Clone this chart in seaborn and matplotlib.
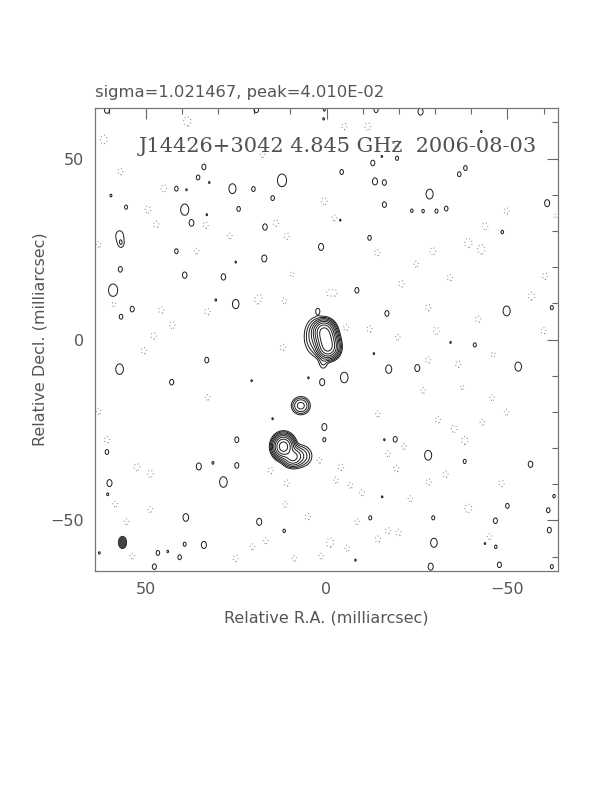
import numpy as np
import matplotlib
matplotlib.use("Agg")
import matplotlib.pyplot as plt
import seaborn as sns
from matplotlib.patches import Ellipse
from matplotlib.ticker import MultipleLocator

sns.set_theme(style="white")
plt.rcParams['font.family'] = ['DejaVu Sans']
plt.rcParams['axes.unicode_minus'] = True

# ---- data (relative RA / Dec in mas, amplitudes in units of lowest contour) ----
# core (chain of sub-components), secondary knot, southern component
comp_ra = [0.7, 0.3, -0.1, -0.4, 3.0, 0.9, 7.1, 11.9, 9.4, 7.2]
comp_dec = [2.4, 0.8, -0.8, -2.4, 0.8, -6.0, -18.3, -29.6, -32.4, -32.2]
comp_amp = [132.0, 132.0, 132.0, 132.0, 7.0, 2.5, 11.0, 200.0, 45.0, 7.0]
comp_sra = [1.25, 1.25, 1.25, 1.25, 1.6, 0.8, 1.2, 1.2, 1.25, 1.6]
comp_sdec = [1.25, 1.25, 1.25, 1.25, 2.6, 1.4, 1.15, 1.35, 1.2, 1.5]

pos_ra = [60.7, 33.9, 35.5, 32.4, 12.3, 41.5, 38.7, 26.0, 20.2, 59.6, 14.9, 55.4, 39.2, 37.3,
          33.1, 24.3, 17.0, 57.2, 56.8, 1.5, 41.5, 25.1, 17.2, 57.0, 39.2, 28.5, 59.0, 53.7,
          56.8, 30.6, 25.1, 2.4, 19.4, 0.6, 0.8, -13.7, -26.0, -12.8, -15.3, -19.5, -4.2,
          -13.4, -16.0, -36.7, -38.4, -28.5, -16.0, -23.6, -26.7, -30.4, -33.1, -61.0, -3.8,
          -11.9, -48.6, -8.4, -16.7, -49.8, -62.3, -42.8, 57.2, 33.1, 42.8, 5.0, 1.2, 14.9,
          24.8, 60.7, 0.6, 0.6, 35.3, 31.4, 24.8, 28.5, 60.0, 60.5, 38.9, 18.6, 11.7, 39.2,
          33.9, 46.6, 43.9, 40.6, 47.6, 62.8, 20.7, -41.0, -34.3, -13.1, -17.2, -25.1, -53.0,
          -4.9, -19.0, -16.0, -28.1, -38.2, -56.4, -15.4, -50.0, -62.9, -61.3, -46.7, -61.6,
          -12.1, -29.5, -29.7, -43.8, -46.8, -8.0, -28.8, -47.8, -62.3]
pos_dec = [63.5, 47.7, 44.8, 43.4, 44.0, 41.7, 41.4, 41.7, 41.6, 39.8, 39.1, 36.6, 35.9, 32.2,
           34.5, 36.1, 31.1, 28.6, 26.5, 25.6, 24.4, 21.4, 22.4, 19.4, 17.8, 17.3, 13.6, 8.4,
           6.3, 10.9, 9.8, 7.9, 63.6, 63.5, 61.0, 63.5, 63.0, 48.8, 50.6, 50.1, 46.3,
           43.7, 43.4, 45.7, 47.4, 40.2, 37.3, 35.6, 35.5, 35.5, 36.2, 37.7, 33.0,
           28.1, 29.7, 13.6, 7.2, 7.9, 8.8, 57.5, -8.2, -5.7, -11.8, -10.6, -11.8, -21.9,
           -27.7, -31.1, -24.2, -27.7, -35.1, -34.1, -34.8, -39.4, -39.7, -42.8, -49.2, -50.4, -52.9, -56.6,
           -56.8, -59.0, -58.6, -60.2, -62.8, -59.0, -11.4, -1.5, -0.8, -3.9, -8.2, -7.9, -7.5,
           -10.5, -27.6, -27.7, -32.0, -33.7, -34.5, -43.5, -46.0, -43.3, -47.2, -50.1, -52.7,
           -49.3, -49.3, -56.2, -56.4, -57.3, -61.0, -62.8, -62.3, -62.8]
pos_size = [1.0, 0.8, 0.7, 0.3, 1.8, 0.7, 0.3, 1.4, 0.7, 0.4, 0.7, 0.6, 1.6, 0.9,
            0.3, 0.7, 0.9, 1.5, 0.9, 1.0, 0.7, 0.3, 1.0, 0.8, 0.9, 0.9, 1.8, 0.8,
            0.7, 0.35, 1.3, 0.7, 0.9, 0.4, 0.35, 0.8, 1.0, 0.8, 0.3, 0.6, 0.7,
            1.0, 0.8, 0.7, 0.7, 1.4, 0.8, 0.5, 0.5, 0.6, 0.7, 1.0, 0.3,
            0.7, 0.5, 0.8, 0.8, 1.4, 0.6, 0.3, 1.5, 0.8, 0.8, 0.3, 1.0, 0.3,
            0.8, 0.7, 1.0, 0.6, 1.0, 0.4, 0.8, 1.5, 1.0, 0.4, 1.1, 1.0, 0.5, 0.6,
            1.0, 0.7, 0.35, 0.7, 0.8, 0.35, 0.3, 0.6, 0.3, 0.3, 1.2, 1.0, 1.3,
            1.5, 0.8, 0.3, 1.4, 0.6, 0.9, 0.3, 0.7, 0.5, 0.7, 0.8, 0.8,
            0.6, 0.6, 1.3, 0.3, 0.5, 0.3, 1.0, 0.8, 0.6]

neg_ra = [38.5, 61.6, 57.0, 45.0, 49.4, 47.1, 33.4, 26.7, 14.0, 11.0, 35.9, 9.5, 0.6, 17.7,
          19.1, 11.7, 58.8, 45.7, 32.9, 42.6, 47.8, 63.0, -4.9, -11.4, -19.5, -2.2, -49.8,
          -43.8, -39.2, -42.8, -14.0, -29.4, -24.8, -34.1, -20.7, -2.2, -60.4, -56.7, -28.1,
          -41.9, -30.4, -11.9, -60.0, -5.4, -63.2, 50.5, 12.1, 32.9, 63.0, 60.7, 52.4, 48.7,
          15.4, 11.0, 58.4, 48.7, 55.3, 11.4, 5.2, 16.8, 20.5, 25.1, 53.7, 8.9, 1.5, -0.8,
          -28.1, -36.4, -46.1, -26.7, -37.5, -45.8, -49.8, -14.2, -30.8, -43.1, -35.3, -38.2,
          -21.4, -19.3, -4.0, -2.6, -6.6, -9.8, -32.9, -28.2, -48.4, -23.2, -39.2, -8.5,
          -17.0, -19.9, -14.2, -1.2, -5.7, -45.1, 18.6, -0.7, -19.7, 2.0, -17.0]
neg_dec = [60.3, 55.3, 46.4, 41.8, 35.9, 31.8, 31.6, 28.6, 32.2, 28.6, 24.4, 18.0, 38.2, 51.1,
           10.7, 10.7, 9.8, 8.1, 7.7, 4.0, 1.0, 26.3, 58.9, 58.9, 54.0, 33.6, 35.5,
           31.3, 26.7, 24.9, 24.0, 24.4, 20.8, 17.1, 15.4, 12.9, 17.5, 12.0, 8.8,
           5.6, 2.4, 2.9, 2.4, 3.3, 34.1, -3.1, -2.2, -16.0, -19.9, -27.7, -35.3, -37.1,
           -36.2, -39.7, -45.5, -47.0, -50.4, -45.6, -49.0, -55.7, -57.3, -60.5, -59.9, -60.5, -59.9, -56.4,
           -5.7, -6.8, -4.2, -14.1, -13.2, -16.1, -20.1, -20.6, -22.2, -22.9, -24.7, -27.9,
           -29.6, -35.7, -35.3, -38.9, -40.3, -42.4, -37.3, -39.4, -39.8, -44.0, -46.7, -50.4,
           -52.9, -53.4, -55.2, -55.9, -57.7, -54.5, 11.6, 12.9, 0.6, -33.4, -31.6]
neg_size = [1.3, 1.2, 0.9, 1.0, 1.0, 0.9, 0.9, 0.8, 0.9, 0.9, 0.8, 0.7, 1.0, 0.8,
            0.8, 0.8, 0.8, 0.9, 0.9, 1.0, 0.9, 0.8, 0.9, 1.0, 0.9, 0.8, 0.9,
            1.0, 1.3, 1.3, 0.9, 1.0, 0.8, 0.9, 0.9, 0.9, 0.9, 1.1, 0.9,
            0.9, 1.0, 0.9, 0.9, 0.9, 0.5, 0.9, 0.9, 0.8, 0.8, 0.9, 1.0, 1.0,
            0.9, 0.9, 0.8, 0.8, 0.8, 0.8, 0.9, 0.8, 0.8, 0.9, 0.8, 0.8, 0.8, 0.8,
            0.9, 0.9, 0.7, 0.8, 0.6, 0.8, 0.8, 0.8, 0.9, 0.8, 1.0, 1.1,
            0.8, 0.9, 0.9, 0.8, 0.8, 0.8, 0.9, 0.9, 0.9, 0.8, 1.2, 0.8,
            0.9, 0.9, 0.9, 0.8, 0.8, 0.8, 0.8, 0.8, 0.8, 0.8, 0.8]

levels_pos = [1, 2, 4, 8, 16, 32, 64, 128, 256]
levels_neg = [-1]
beam = (56.4, -56.1, 2.3, 3.4)  # ra, dec, minor, major
sigma_text = "sigma=1.021467, peak=4.010E-02"
title_text = "J14426+3042 4.845 GHz  2006-08-03"

# ---- build the map ----
step = 0.15
xg = np.arange(-66, 66 + step, step)
yg = np.arange(-66, 66 + step, step)
img = np.zeros((len(yg), len(xg)))


def add(ra, dec, amp, sra, sdec):
    gx = np.exp(-0.5 * ((xg - ra) / sra) ** 2)
    gy = np.exp(-0.5 * ((yg - dec) / sdec) ** 2)
    img[:] += amp * np.outer(gy, gx)


for r, d, a, sr, sd in zip(comp_ra, comp_dec, comp_amp, comp_sra, comp_sdec):
    add(r, d, a, sr, sd)
for r, d, s in zip(pos_ra, pos_dec, pos_size):
    add(r, d, 1.6, 0.72 * s, s)
for r, d, s in zip(neg_ra, neg_dec, neg_size):
    add(r, d, -1.6, 0.8 * s, s)

fig = plt.figure(figsize=(6.12, 7.92), dpi=100)
ax = fig.add_axes([95 / 612, 1 - 571 / 792, 463 / 612, 463 / 792])
ax.set_facecolor('white')

ax.contour(xg, yg, img, levels=levels_pos, colors='#1a1a1a', linewidths=0.7)
ax.contour(xg, yg, img, levels=levels_neg, colors='#7a7a7a', linewidths=0.9,
           linestyles=[(0, (0.6, 2.2))])

ax.add_patch(Ellipse((beam[0], beam[1]), beam[2], beam[3], facecolor='#444444',
                     edgecolor='#222222', linewidth=0.6))

ax.set_xlim(64, -64)
ax.set_ylim(-64, 64)
ax.set_aspect('auto')

ax.xaxis.set_major_locator(MultipleLocator(50))
ax.xaxis.set_minor_locator(MultipleLocator(10))
ax.yaxis.set_major_locator(MultipleLocator(50))
ax.yaxis.set_minor_locator(MultipleLocator(10))
ax.tick_params(which='both', direction='in', top=True, right=True, color='#666666',
               labelcolor='#555555', labelsize=11.5)
ax.tick_params(which='major', length=8, width=0.8, pad=8)
ax.tick_params(which='minor', length=4.5, width=0.8)
for sp in ax.spines.values():
    sp.set_color('#777777')
    sp.set_linewidth(0.9)

ax.text(-3.2, 53.3, title_text, ha='center', va='center', fontsize=15,
        family=['DejaVu Serif'], color='#505050')

fig.text(95 / 612, 1 - 92 / 792, sigma_text, ha='left', va='center', fontsize=11.8,
         color='#555555')
fig.text(326 / 612, 1 - 618 / 792, 'Relative R.A. (milliarcsec)', ha='center',
         va='center', fontsize=11.5, color='#555555')
fig.text(40 / 612, 1 - 339 / 792, 'Relative Decl. (milliarcsec)', ha='center',
         va='center', fontsize=11.5, color='#555555', rotation=90)

fig.savefig('out.png', dpi=100, facecolor='white')
